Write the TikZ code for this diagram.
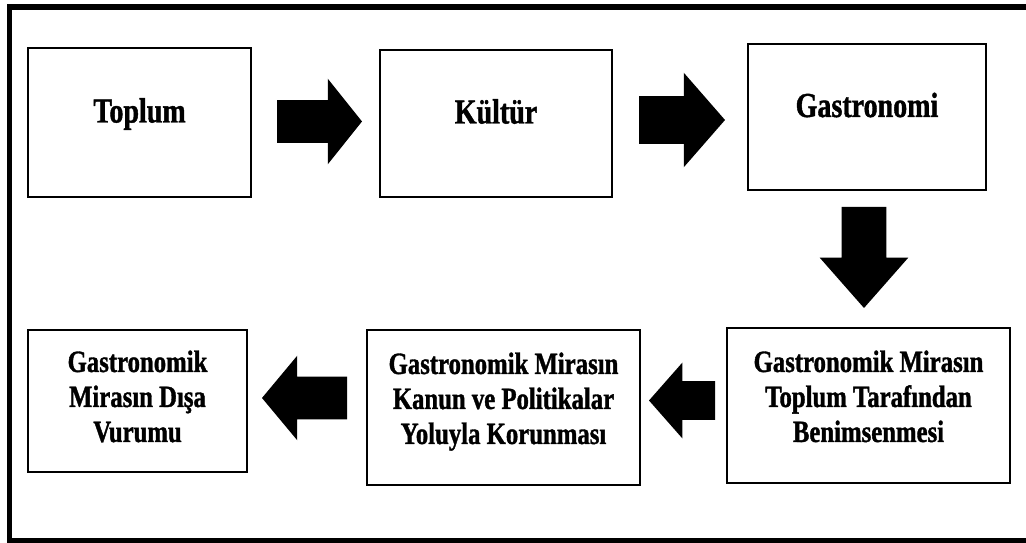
\documentclass[tikz,border=0pt]{standalone}
\usepackage{fontspec}
\setmainfont{Liberation Serif}[FakeStretch=0.8, BoldFeatures={FakeBold=1.2}]
\usepackage{tikz}
\usetikzlibrary{shapes.arrows}
\tikzset{
  heritage-box/.style={draw=black, fill=white, line width=1.3pt, align=center,
    font=\bfseries\fontsize{22}{24.9}\selectfont, inner sep=2pt,
    text height=2.3cm, text depth=0.475cm},
  heritage-title/.style={heritage-box, font=\bfseries\fontsize{24.9}{28}\selectfont,
    text height=0.3cm, text depth=0.3cm},
  heritage-arrow/.style={single arrow, fill=black, draw=none, inner xsep=0pt, outer sep=0pt, anchor=tail}
}

\begin{document}
\begin{tikzpicture}[x=1cm, y=1cm]
  \useasboundingbox (0,0) rectangle (25.65,13.575);
  % outer frame, open on the right
  \draw[line width=3.9pt, line join=miter] (25.65,13.4) -- (0.2375,13.4) -- (0.2375,0.0625) -- (25.65,0.0625);
  % top row
  \node[heritage-title, minimum width=5.575cm, minimum height=3.725cm] (toplum) at (3.4875,10.5125) {Toplum};
  \node[heritage-title, minimum width=5.8cm, minimum height=3.675cm] (kultur) at (12.4,10.4875) {Kültür};
  \node[heritage-title, minimum width=5.95cm, minimum height=3.65cm] (gastro) at (21.675,10.65) {Gastronomi};
  % bottom row
  \node[heritage-box, minimum width=7.075cm, minimum height=3.875cm] (benim) at (21.7125,3.4375) {Gastronomik Mirasın\\Toplum Tarafından\\Benimsenmesi};
  \node[heritage-box, minimum width=6.825cm, minimum height=3.875cm] (korun) at (12.5875,3.3875) {Gastronomik Mirasın\\Kanun ve Politikalar\\Yoluyla Korunması};
  \node[heritage-box, minimum width=5.475cm, minimum height=3.55cm, text depth=0.25cm] (disa) at (3.4375,3.55) {Gastronomik\\Mirasın Dışa\\Vurumu};
  % block arrows
  \node[heritage-arrow, inner ysep=0.525cm, single arrow head extend=0.5375cm, single arrow tip angle=102.7,
    minimum height=2.125cm, minimum width=2.125cm] (toplum-kultur) at (6.925,10.5375) {};
  \node[heritage-arrow, inner ysep=0.5875cm, single arrow head extend=0.5875cm, single arrow tip angle=97.8,
    minimum height=2.15cm, minimum width=2.35cm] (kultur-gastro) at (15.975,10.575) {};
  \node[heritage-arrow, rotate=-90, inner ysep=0.55cm, single arrow head extend=0.55cm, single arrow tip angle=82.7,
    minimum height=2.525cm, minimum width=2.2cm] (gastro-benim) at (21.6,8.4) {};
  \node[heritage-arrow, rotate=180, inner ysep=0.475cm, single arrow head extend=0.4625cm, single arrow tip angle=97.3,
    minimum height=1.65cm, minimum width=1.875cm] (benim-korun) at (17.875,3.5625) {};
  \node[heritage-arrow, rotate=180, inner ysep=0.525cm, single arrow head extend=0.525cm, single arrow tip angle=100.4,
    minimum height=2.125cm, minimum width=2.1cm] (korun-disa) at (8.675,3.625) {};
\end{tikzpicture}
\end{document}
